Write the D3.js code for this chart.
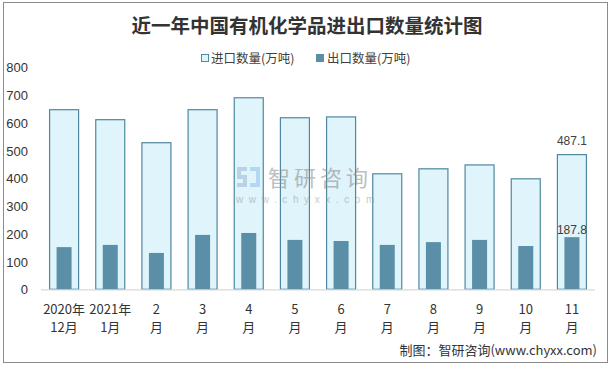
<!DOCTYPE html>
<html><head><meta charset="utf-8">
<script src="https://cdn.jsdelivr.net/npm/d3@7"></script>
<style>body{margin:0;background:#fff;}svg{display:block;}</style>
</head><body>
<svg id="c" width="612" height="367"></svg>
<script>
const categories = ["2020年|12月","2021年|1月","2|月","3|月","4|月","5|月","6|月","7|月","8|月","9|月","10|月","11|月"];
const importValues = [649, 613, 530, 649, 692, 620, 623, 418, 436, 450, 400, 487.1];
const exportValues = [152, 160, 131, 196, 203, 178, 174, 160, 170, 178, 156, 187.8];
const yTicks = [0,100,200,300,400,500,600,700,800];
const seriesNames = ["进口数量(万吨)","出口数量(万吨)"];
const labelIndex = 11;

(function(){
const svg = d3.select("#c");
const pLeft = 41, pRight = 595, pTop = 67.3, pBottom = 289.3;
const font = "'Liberation Sans','Noto Sans CJK SC',sans-serif";
const cjk = "'Noto Sans CJK SC','Liberation Sans',sans-serif";

svg.append("rect").attr("x",3.5).attr("y",2.5).attr("width",604).attr("height",360)
  .attr("fill","#fff").attr("stroke","#8c8c8c").attr("stroke-width",1);

const x = d3.scaleBand().domain(categories).range([pLeft,pRight]).paddingInner(0.35).paddingOuter(0.175);
const y = d3.scaleLinear().domain([0,800]).range([pBottom,pTop]);

// title
svg.append("text").attr("x",307).attr("y",33).attr("text-anchor","middle")
  .attr("font-family","'Noto Sans CJK SC',serif").attr("font-weight","bold")
  .attr("font-size",19.5).attr("fill","#333").text("近一年中国有机化学品进出口数量统计图");

// legend
const lg = svg.append("g").attr("font-family",cjk).attr("font-size",12.5).attr("fill","#404040");
lg.append("rect").attr("x",201.5).attr("y",54.5).attr("width",7).attr("height",7).attr("fill","#dff4fb").attr("stroke","#4f88a0");
lg.append("text").attr("x",211).attr("y",62.5).text(seriesNames[0]);
lg.append("rect").attr("x",316).attr("y",54).attr("width",8).attr("height",8).attr("fill","#5b8fa8");
lg.append("text").attr("x",327).attr("y",62.5).text(seriesNames[1]);

// y axis
const yAxis = d3.axisLeft(y).tickValues(yTicks).tickSize(0).tickPadding(0);
const ga = svg.append("g").attr("transform","translate(28,0)").call(yAxis);
ga.select(".domain").remove();
ga.selectAll("text").attr("font-family",font).attr("font-size",13).attr("fill","#333").attr("dy","0.35em");

// bars
svg.append("g").selectAll("rect").data(importValues).join("rect")
  .attr("x",(d,i)=>x(categories[i])+0.5).attr("y",d=>y(d)+0.5)
  .attr("width",x.bandwidth()-1).attr("height",d=>pBottom-y(d)-0.5)
  .attr("fill","#dff4fb").attr("stroke","#4f88a0").attr("stroke-width",1.2);
svg.append("g").selectAll("rect").data(exportValues).join("rect")
  .attr("x",(d,i)=>x(categories[i])+x.bandwidth()/4).attr("y",d=>y(d))
  .attr("width",x.bandwidth()/2).attr("height",d=>pBottom-y(d))
  .attr("fill","#5b8fa8");

// baseline
svg.append("line").attr("x1",pLeft).attr("x2",pRight).attr("y1",pBottom+0.5).attr("y2",pBottom+0.5)
  .attr("stroke","#d9d9d9").attr("stroke-width",1.2);

// watermark (drawn over bars, faint)
const wm = svg.append("g").attr("opacity",0.55);
wm.append("path").attr("d","M237,167h10v4h-6v4h6v12h-10v-4h6v-4h-6z").attr("fill","#9fb6d8");
wm.append("path").attr("d","M250,167h10v20h-10v-4h6v-12h-6z").attr("fill","#8fc0e8");
wm.append("text").attr("x",268).attr("y",186).attr("font-family",cjk).attr("font-size",22).attr("fill","#8a8a8a").attr("letter-spacing",4).text("智研咨询");
wm.append("text").attr("x",236).attr("y",203).attr("font-family",font).attr("font-size",10).attr("fill","#9a9a9a").attr("letter-spacing",5.6).text("www.chyxx.com");

// value labels
const cx = x(categories[labelIndex]) + x.bandwidth()/2;
svg.append("text").attr("x",cx).attr("y",y(importValues[labelIndex])-9).attr("text-anchor","middle")
  .attr("font-family",font).attr("font-size",12).attr("fill","#404040").text(importValues[labelIndex].toFixed(1));
svg.append("text").attr("x",cx).attr("y",y(exportValues[labelIndex])-3).attr("text-anchor","middle")
  .attr("font-family",font).attr("font-size",12).attr("fill","#404040").text(exportValues[labelIndex].toFixed(1));

// x labels
const xl = svg.append("g").attr("font-family",cjk).attr("font-size",13).attr("fill","#333").attr("text-anchor","middle");
categories.forEach(c=>{
  const [a,b] = c.split("|");
  const px = x(c)+x.bandwidth()/2;
  xl.append("text").attr("x",px).attr("y",314).text(a);
  xl.append("text").attr("x",px).attr("y",332).text(b);
});

// source
svg.append("text").attr("x",597).attr("y",355).attr("text-anchor","end")
  .attr("font-family",cjk).attr("font-size",13).attr("fill","#333").text("制图：智研咨询(www.chyxx.com)");
})();
</script>
</body></html>
